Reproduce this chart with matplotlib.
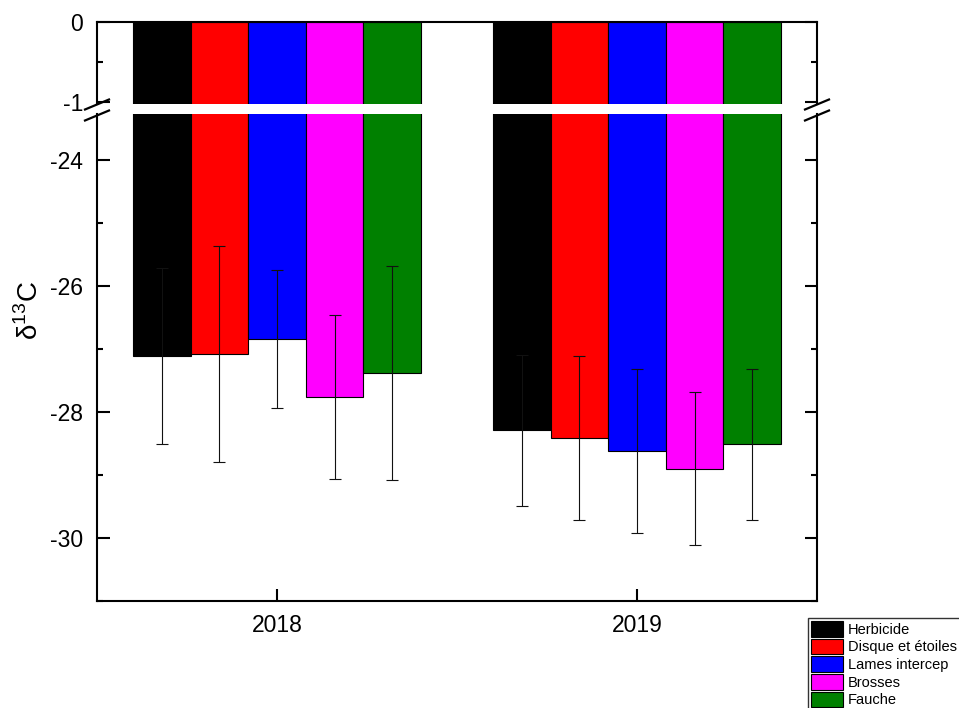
import numpy as np
import matplotlib
matplotlib.use('Agg')
import matplotlib.pyplot as plt
from matplotlib.lines import Line2D
from matplotlib.patches import Patch

plt.rcParams['font.family'] = ['Liberation Sans', 'DejaVu Sans']
plt.rcParams['mathtext.fontset'] = 'custom'
plt.rcParams['mathtext.rm'] = 'Liberation Sans'

years = ['2018', '2019']
treatments = ['Herbicide', 'Disque et étoiles', 'Lames intercep', 'Brosses', 'Fauche']
colors = ['#000000', '#ff0000', '#0000ff', '#ff00ff', '#008000']

# delta 13C means per treatment, [2018, 2019]
means = {
    'Herbicide':         [-27.11, -28.29],
    'Disque et étoiles': [-27.08, -28.41],
    'Lames intercep':    [-26.84, -28.62],
    'Brosses':           [-27.76, -28.90],
    'Fauche':            [-27.38, -28.51],
}
sds = {
    'Herbicide':         [1.40, 1.20],
    'Disque et étoiles': [1.71, 1.30],
    'Lames intercep':    [1.10, 1.30],
    'Brosses':           [1.30, 1.21],
    'Fauche':            [1.70, 1.20],
}

W, H = 959, 708
fig = plt.figure(figsize=(W / 100, H / 100), dpi=100)

def fx(px):
    return px / W

def fy(py):
    return 1 - py / H

left, right = 97, 817
ax_top = fig.add_axes([fx(left), fy(104), fx(right - left), fy(22) - fy(104)])
ax_bot = fig.add_axes([fx(left), fy(601), fx(right - left), fy(114) - fy(601)])

x = np.arange(1, len(years) + 1)
bw = 0.16
for i, t in enumerate(treatments):
    xi = x + (i - 2) * bw
    for ax in (ax_top, ax_bot):
        ax.bar(xi, means[t], width=bw, color=colors[i], edgecolor='black', linewidth=0.8, zorder=2)
    ax_bot.errorbar(xi, means[t], yerr=sds[t], fmt='none', ecolor='#111111',
                    elinewidth=0.8, capsize=4.3, capthick=0.8, zorder=3)

ax_top.set_ylim(-1.025, 0)
ax_bot.set_ylim(-31.0, -23.27)
for ax in (ax_top, ax_bot):
    ax.set_xlim(0.5, 2.5)
    for s in ax.spines.values():
        s.set_linewidth(1.5)
    ax.tick_params(axis='y', which='major', direction='in', length=9, width=1.5,
                   left=True, right=True, labelsize=16.5, pad=10)
    ax.tick_params(axis='y', which='minor', direction='in', length=4.5, width=1.5,
                   left=True, right=True)

ax_top.spines['bottom'].set_visible(False)
ax_top.set_yticks([-1, 0])
ax_top.set_yticklabels(['-1', '0'])
ax_top.set_yticks([-0.5], minor=True)
ax_top.set_xticks([])
ax_top.tick_params(axis='x', which='both', bottom=False, top=False)

ax_bot.spines['top'].set_visible(False)
ax_bot.set_yticks([-30, -28, -26, -24])
ax_bot.set_yticklabels(['-30', '-28', '-26', '-24'])
ax_bot.set_yticks([-31, -29, -27, -25], minor=True)
ax_bot.set_xticks(x)
ax_bot.set_xticklabels(years)
ax_bot.tick_params(axis='x', which='major', direction='in', length=9, width=1.5,
                   top=False, labelsize=16.5, pad=9)
ax_bot.tick_params(axis='x', which='minor', bottom=False, top=False)

# break marks on both vertical axes
for sx in (left, right):
    for cy in (104.5, 115.5):
        fig.add_artist(Line2D([fx(sx - 12), fx(sx + 12)], [fy(cy + 5), fy(cy - 5)],
                              color='black', linewidth=1.6))

fig.text(fx(30), fy(310), r'δ$^{13}$C', rotation=90, fontsize=20, ha='center', va='center')

handles = [Patch(facecolor=c, edgecolor='black', linewidth=0.8) for c in colors]
leg = fig.legend(handles, treatments, loc='upper left', bbox_to_anchor=(fx(808), fy(618)),
                 fontsize=10.5, frameon=True, fancybox=False, borderaxespad=0,
                 borderpad=0.2, handlelength=2.2, handleheight=1.3, labelspacing=0.12,
                 handletextpad=0.35)
leg.get_frame().set_edgecolor('black')
leg.get_frame().set_linewidth(1.0)

fig.savefig('out.png', dpi=100)
